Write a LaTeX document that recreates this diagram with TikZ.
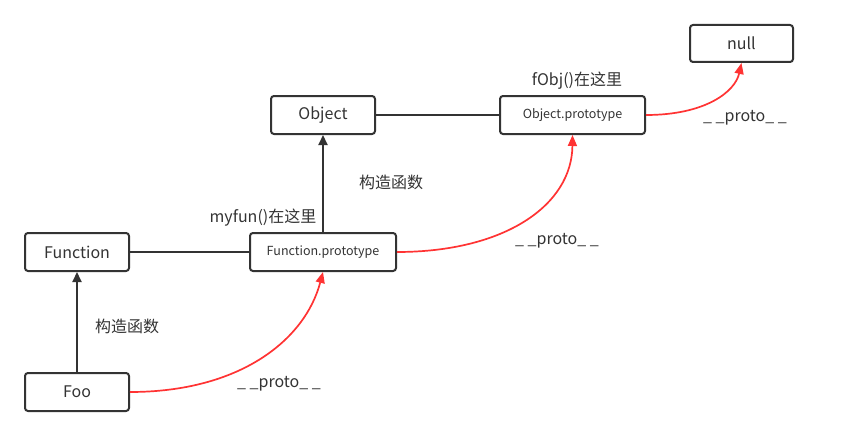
\documentclass[tikz,border=0pt]{standalone}
\usepackage{fontspec}
\setmainfont{Noto Sans CJK SC}
\usetikzlibrary{arrows.meta}
\definecolor{ink}{HTML}{333333}
\definecolor{redl}{HTML}{FF3333}
\begin{document}
\begin{tikzpicture}[x=1pt,y=-1pt,
  box/.style={draw=ink,line width=2pt,rounded corners=3pt,text=ink,inner sep=0pt},
  lbl/.style={text=ink,font=\fontsize{16}{19}\selectfont,inner sep=0pt},
  conn/.style={ink,line width=2pt},
  carrow/.style={ink,line width=2pt,-{Triangle[length=10pt,width=9pt]}},
  rarrow/.style={redl,line width=1.7pt,-{Triangle[length=11pt,width=9pt]}}]
\useasboundingbox (0,0) rectangle (849,436);
% boxes
\node[box,minimum width=104pt,minimum height=38pt,font=\fontsize{16}{19}\selectfont] (obj) at (323,115) {Object};
\node[box,minimum width=145pt,minimum height=38pt,font=\fontsize{12.5}{15}\selectfont] (objp) at (572.5,115) {Object.prototype};
\node[box,minimum width=103pt,minimum height=37pt,font=\fontsize{16}{19}\selectfont] (null) at (741.5,43.5) {null};
\node[box,minimum width=104pt,minimum height=38pt,font=\fontsize{16}{19}\selectfont] (fun) at (77,252) {Function};
\node[box,minimum width=146pt,minimum height=38pt,font=\fontsize{12.5}{15}\selectfont] (funp) at (323,252) {Function.prototype};
\node[box,minimum width=104pt,minimum height=38pt,font=\fontsize{16}{19}\selectfont] (foo) at (77,392) {Foo};
% labels
\node[lbl] (l1) at (577,81) {fObj()在这里};
\node[lbl] (l2) at (391,182) {构造函数};
\node[lbl] (l3) at (263,218) {myfun()在这里};
\node[lbl] (l4) at (127,326) {构造函数};
\node[lbl] (p1) at (279,384) {\_ \_proto\_ \_};
\node[lbl] (p2) at (557,241) {\_ \_proto\_ \_};
\node[lbl] (p3) at (745,118) {\_ \_proto\_ \_};
% black connectors
\draw[conn] (obj.east) -- (objp.west);
\draw[conn] (fun.east) -- (funp.west);
\draw[carrow] (funp.north) -- (obj.south);
\draw[carrow] (foo.north) -- (fun.south);
% red curves
\draw[rarrow] (foo.east) .. controls (240,392) and (305,340) .. (funp.south);
\draw[rarrow] (funp.east) .. controls (505,252) and (572,205) .. (objp.south);
\draw[rarrow] (objp.east) .. controls (705,115) and (735,92) .. (null.south);
\end{tikzpicture}
\end{document}
